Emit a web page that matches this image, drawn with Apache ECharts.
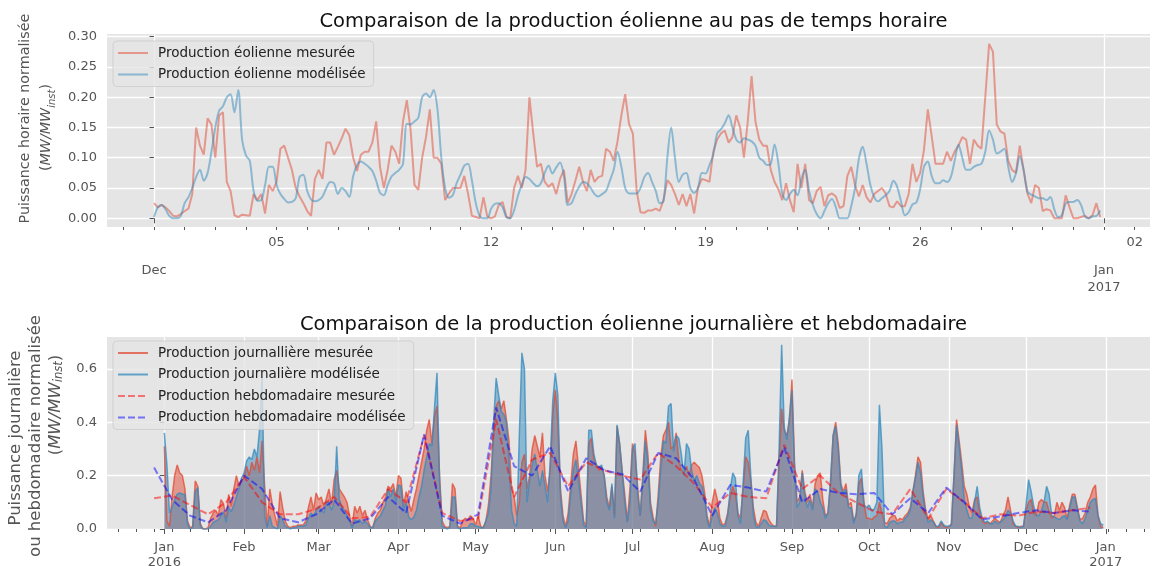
<!DOCTYPE html>
<html lang="fr">
<head>
<meta charset="utf-8">
<title>Production éolienne mesurée et modélisée</title>
<script src="https://cdn.jsdelivr.net/npm/echarts@6.0.0/dist/echarts.min.js"></script>
<style>
  html, body { margin: 0; padding: 0; background: #ffffff; }
  #graphique { width: 1154px; height: 566px; }
</style>
</head>
<body>
<div id="graphique"></div>
<script>
// ---------- Décembre 2016, un point toutes les 3 heures (une ligne = un jour) ----------
const pasHoraire = 3;
const mesureHoraire = [
  0.025, 0.018, 0.022, 0.018, 0.012, 0.004, 0.003, 0.007,
  0.012, 0.016, 0.04, 0.15, 0.12, 0.105, 0.165, 0.155,
  0.1, 0.17, 0.175, 0.06, 0.045, 0.005, 0.002, 0.006,
  0.005, 0.004, 0.04, 0.03, 0.04, 0.008, 0.055, 0.045,
  0.06, 0.115, 0.12, 0.1, 0.08, 0.05, 0.036, 0.025,
  0.012, 0.004, 0.065, 0.08, 0.065, 0.125, 0.125, 0.105,
  0.118, 0.132, 0.148, 0.137, 0.1, 0.078, 0.105, 0.11,
  0.11, 0.125, 0.16, 0.085, 0.05, 0.08, 0.12, 0.11,
  0.09, 0.16, 0.195, 0.145, 0.055, 0.047, 0.1, 0.134,
  0.18, 0.1, 0.1, 0.09, 0.03, 0.041, 0.05, 0.05,
  0.05, 0.07, 0.04, 0.004, 0.002, 0, 0.035, 0.003,
  0, 0.003, 0.022, 0.027, 0.002, 0, 0.05, 0.07,
  0.05, 0.08, 0.2, 0.14, 0.085, 0.09, 0.06, 0.052,
  0.058, 0.04, 0.065, 0.08, 0.025, 0.04, 0.062, 0.085,
  0.06, 0.045, 0.08, 0.06, 0.068, 0.07, 0.115, 0.11,
  0.095, 0.127, 0.17, 0.205, 0.156, 0.14, 0.045, 0.01,
  0.009, 0.013, 0.013, 0.016, 0.012, 0.03, 0.063, 0.055,
  0.04, 0.022, 0.04, 0.02, 0.04, 0.008, 0.05, 0.065,
  0.063, 0.06, 0.11, 0.13, 0.14, 0.145, 0.125, 0.134,
  0.17, 0.15, 0.1, 0.16, 0.235, 0.16, 0.13, 0.12,
  0.12, 0.08, 0.06, 0.048, 0.03, 0.058, 0.03, 0.01,
  0.09, 0.05, 0.09, 0.03, 0.025, 0.045, 0.052, 0.02,
  0.038, 0.041, 0.036, 0.017, 0.02, 0.07, 0.085, 0.055,
  0.036, 0.055, 0.035, 0.026, 0.04, 0.045, 0.05, 0.041,
  0.02, 0.018, 0.028, 0.02, 0.02, 0.04, 0.09, 0.06,
  0.075, 0.113, 0.18, 0.136, 0.09, 0.09, 0.09, 0.11,
  0.095, 0.11, 0.12, 0.134, 0.13, 0.09, 0.13, 0.12,
  0.115, 0.2, 0.288, 0.275, 0.155, 0.143, 0.14, 0.095,
  0.08, 0.075, 0.12, 0.08, 0.041, 0.025, 0.055, 0.05,
  0.012, 0.015, 0.013, 0, 0, 0, 0.038, 0.018,
  0, 0, 0.002, 0.004, 0, 0.005, 0.025, 0.002
];
const modeleHoraire = [
  0.002, 0.018, 0.022, 0.015, 0.004, 0, 0, 0.004,
  0.025, 0.035, 0.05, 0.068, 0.08, 0.062, 0.075, 0.11,
  0.15, 0.178, 0.185, 0.2, 0.205, 0.175, 0.212, 0.13,
  0.104, 0.095, 0.045, 0.029, 0.03, 0.055, 0.085, 0.085,
  0.055, 0.04, 0.032, 0.026, 0.027, 0.033, 0.068, 0.072,
  0.045, 0.031, 0.028, 0.03, 0.036, 0.05, 0.06, 0.058,
  0.04, 0.05, 0.045, 0.035, 0.07, 0.088, 0.094, 0.09,
  0.085, 0.078, 0.062, 0.042, 0.038, 0.055, 0.069, 0.075,
  0.08, 0.09, 0.156, 0.155, 0.16, 0.166, 0.2, 0.206,
  0.2, 0.212, 0.18, 0.1, 0.05, 0.034, 0.038, 0.058,
  0.072, 0.087, 0.09, 0.062, 0.025, 0.004, 0, 0,
  0.016, 0.024, 0.025, 0.018, 0.002, 0, 0.013, 0.037,
  0.055, 0.068, 0.065, 0.058, 0.053, 0.058, 0.075, 0.087,
  0.074, 0.084, 0.092, 0.07, 0.022, 0.025, 0.04, 0.052,
  0.06, 0.058, 0.05, 0.04, 0.036, 0.04, 0.045, 0.062,
  0.08, 0.11, 0.085, 0.05, 0.041, 0.041, 0.041, 0.05,
  0.068, 0.075, 0.06, 0.045, 0.025, 0.028, 0.1, 0.15,
  0.1, 0.06, 0.072, 0.075, 0.05, 0.042, 0.05, 0.075,
  0.074, 0.088, 0.105, 0.14, 0.147, 0.157, 0.17, 0.15,
  0.13, 0.125, 0.132, 0.13, 0.127, 0.12, 0.1, 0.095,
  0.088, 0.09, 0.122, 0.09, 0.041, 0.03, 0.04, 0.047,
  0.038, 0.065, 0.08, 0.045, 0.022, 0.007, 0, 0.012,
  0.025, 0.032, 0.018, 0, 0, 0, 0.02, 0.05,
  0.098, 0.118, 0.09, 0.055, 0.035, 0.028, 0.033, 0.038,
  0.045, 0.062, 0.052, 0.028, 0.005, 0.01, 0.023, 0.026,
  0.048, 0.085, 0.094, 0.07, 0.058, 0.058, 0.063, 0.06,
  0.068, 0.095, 0.122, 0.1, 0.08, 0.08, 0.085, 0.088,
  0.09, 0.11, 0.145, 0.13, 0.107, 0.11, 0.115, 0.085,
  0.06, 0.074, 0.103, 0.08, 0.044, 0.039, 0.036, 0.033,
  0.033, 0.03, 0.035, 0.015, 0.002, 0.005, 0.025, 0.027,
  0.027, 0.03, 0.022, 0.003, 0, 0.003, 0.004, 0.013
];

// ---------- Année 2016, moyennes journalières (une ligne = un mois) ----------
const mesureJour = [
  .31,.03,.01,.12,.20,.24,.21,.20,.15,.03,.005,.01,.18,.16,.02,0,0,.005,.04,.06,.07,.05,.11,.095,.04,.13,.085,.15,.20,.16,.18,
  .19,.235,.20,.25,.22,.27,.21,.33,.16,.01,.15,.09,.05,.01,.14,.08,.03,.01,.005,.01,.01,.015,.015,.015,.03,.08,.12,.07,.135,
  .11,.12,.085,.115,.15,.09,.185,.22,.15,.135,.12,.10,.05,.01,.085,.06,.085,.05,.07,.035,.01,.005,.04,.06,.07,.10,.12,.16,.15,.17,.12,
  .2,.19,.085,.14,.1,.065,.11,.15,.2,.25,.3,.37,.41,.32,.42,.46,.2,.03,.01,.005,.01,.17,.15,.01,.005,.03,.04,.035,.05,.04,
  .015,.05,.01,.005,.03,.09,.2,.35,.46,.48,.45,.48,.41,.33,.15,.12,.05,.1,.25,.28,.15,.2,.3,.35,.31,.27,.36,.2,.14,.22,.43,
  .52,.4,.15,.05,.01,.06,.17,.28,.33,.23,.13,.03,.01,.32,.34,.26,.24,.22,.23,.2,.12,.08,.16,.05,.385,.32,.22,.13,.03,.15,
  .32,.28,.16,.05,.2,.37,.28,.1,.045,.01,.13,.27,.35,.37,.4,.3,.31,.36,.26,.22,.21,.235,.2,.24,.25,.24,.23,.2,.14,.05,.01,
  .1,.15,.11,.04,.015,.02,.06,.12,.16,.13,.06,.04,.15,.27,.25,.18,.08,.025,.01,.04,.07,.065,.035,.02,.01,.01,.25,.45,.37,.35,.4,
  .56,.25,.1,.12,.22,.14,.1,.13,.08,.17,.2,.21,.11,.05,.06,.17,.35,.4,.32,.17,.14,.17,.09,.1,.03,.05,.17,.19,.1,.04,
  .04,.035,.045,.05,.1,.06,.025,.02,.04,.05,.05,.03,.04,.035,.05,.06,.08,.14,.2,.27,.25,.14,.07,.035,.05,.03,.01,.005,.025,.01,.005,
  .01,.02,.2,.41,.33,.25,.16,.13,.08,.06,.11,.12,.06,.03,.02,.025,.02,.03,.04,.03,.025,.05,.07,.12,.07,.02,.01,.005,.01,.01,
  .07,.1,.11,.06,.05,.1,.11,.1,.1,.065,.04,.05,.1,.07,.1,.08,.04,.09,.13,.13,.08,.035,.04,.06,.1,.12,.15,.165,.05,.01,.005
];
const modeleJour = [
  .36,.24,.06,.08,.11,.13,.135,.13,.13,.02,0,.005,.14,.155,.01,0,0,0,.01,.025,.03,.035,.05,.065,.025,.08,.065,.09,.12,.15,.19,
  .21,.255,.27,.26,.30,.27,.37,.57,.05,.005,.05,.01,.005,0,.05,.035,.01,.005,0,.005,.005,.01,.01,.01,.015,.04,.06,.05,.07,
  .085,.07,.06,.1,.1,.07,.1,.31,.11,.085,.07,.05,.03,.005,.035,.03,.035,.02,.03,.02,.005,.005,.03,.04,.05,.07,.09,.15,.12,.15,.1,
  .165,.16,.07,.1,.045,.035,.045,.07,.12,.16,.22,.27,.32,.31,.45,.585,.18,.01,.005,0,.005,.12,.12,.005,0,.005,.005,.005,.02,.02,
  .01,.01,.005,.005,.03,.06,.15,.4,.565,.5,.44,.43,.4,.25,.07,.02,.01,.35,.66,.6,.1,.18,.24,.28,.22,.16,.22,.16,.1,.25,.48,
  .585,.5,.12,.03,.005,.03,.13,.22,.26,.18,.1,.015,.005,.37,.37,.28,.24,.23,.24,.2,.1,.07,.17,.04,.39,.32,.21,.1,.025,.1,
  .3,.32,.13,.05,.18,.33,.25,.075,.03,.02,.1,.22,.33,.32,.46,.47,.29,.35,.34,.28,.2,.32,.3,.22,.18,.2,.17,.16,.12,.035,.005,
  .05,.08,.06,.02,.01,.01,.05,.15,.21,.19,.05,.02,.17,.34,.37,.2,.05,.01,.005,.02,.035,.03,.015,.01,.01,.01,.3,.69,.38,.335,.42,
  .52,.22,.08,.1,.21,.12,.08,.11,.07,.15,.14,.1,.08,.04,.06,.18,.35,.385,.3,.16,.13,.15,.08,.08,.02,.06,.2,.225,.09,.08,
  .09,.07,.075,.1,.465,.3,.01,.005,.025,.03,.03,.02,.025,.025,.04,.05,.07,.14,.19,.25,.21,.12,.055,.025,.035,.025,.01,.01,.03,.015,.01,
  .01,.015,.2,.39,.31,.22,.11,.07,.04,.04,.1,.16,.08,.04,.025,.03,.02,.02,.03,.02,.025,.035,.045,.07,.06,.03,.01,.01,.005,.01,
  .09,.185,.14,.085,.05,.05,.07,.1,.16,.13,.05,.045,.04,.035,.045,.05,.035,.08,.12,.12,.07,.03,.02,.04,.07,.1,.11,.115,.05,.02,.015
];

// ---------- Moyennes hebdomadaires, un point chaque lundi depuis le 28/12/2015 ----------
const debutHebdo = -4;   // jours par rapport au 1er janvier 2016
const pasHebdo = 7;
const mesureHebdo = [
  .115,.125,.09,.055,.1,.195,.1,.055,.055,.075,.12,.04,.045,.15,.1,.35,.06,.03,.04,.41,.12,.26,.285,.16,.25,.22,
  .2,.185,.285,.235,.17,.08,.135,.12,.115,.315,.15,.2,.135,.1,.065,.055,.15,.04,.15,.1,.04,.055,.05,.065,.06,.07,.08
];
const modeleHebdo = [
  .23,.11,.05,.025,.07,.2,.15,.04,.025,.055,.11,.02,.04,.12,.06,.355,.05,.02,.055,.455,.235,.2,.31,.14,.265,.22,
  .205,.14,.285,.265,.185,.05,.165,.155,.14,.305,.1,.15,.135,.13,.135,.055,.115,.06,.155,.1,.035,.047,.06,.07,.06,.07,.065
];

// ---------- Libellés ----------
const titreHoraire = 'Comparaison de la production éolienne au pas de temps horaire';
const titreJour = 'Comparaison de la production éolienne journalière et hebdomadaire';
const nomsHoraire = ['Production éolienne mesurée', 'Production éolienne modélisée'];
const nomsJour = ['Production journallière mesurée', 'Production journalière modélisée',
                  'Production hebdomadaire mesurée', 'Production hebdomadaire modélisée'];
const moisHoraire = ['Dec', 'Jan\n2017'];
const joursHoraire = ['05', '12', '19', '26', '02'];
const moisAnnee = ['Jan\n2016', 'Feb', 'Mar', 'Apr', 'May', 'Jun', 'Jul', 'Aug', 'Sep', 'Oct', 'Nov', 'Dec', 'Jan\n2017'];
const valeursGradHoraire = [0, 0.05, 0.10, 0.15, 0.20, 0.25, 0.30];
const textesGradHoraire = ['0.00', '0.05', '0.10', '0.15', '0.20', '0.25', '0.30'];
const valeursGradJour = [0, 0.2, 0.4, 0.6];
const textesGradJour = ['0.0', '0.2', '0.4', '0.6'];
const uniteAxe = '{p|(}{m|MW/MW}{s|inst}{p|)}';

// ---------- Positions calendaires ----------
const MS_JOUR = 864e5, MS_HEURE = 36e5;
const origineDec = Date.UTC(2016, 11, 1);
const origineAnnee = Date.UTC(2016, 0, 1);
const heuresMois = [Date.UTC(2016, 11, 1), Date.UTC(2017, 0, 1)].map(t => (t - origineDec) / MS_HEURE);
const heuresJoursLibelles = [Date.UTC(2016, 11, 5), Date.UTC(2016, 11, 12), Date.UTC(2016, 11, 19),
                             Date.UTC(2016, 11, 26), Date.UTC(2017, 0, 2)].map(t => (t - origineDec) / MS_HEURE);
const heuresGraduationsJour = [];
for (let d = -1; d <= 32; d++) heuresGraduationsJour.push(d * 24);
const joursDebutMois = moisAnnee.map((_, m) => (Date.UTC(2016, m, 1) - origineAnnee) / MS_JOUR);
const lundis = [];
for (let d = (Date.UTC(2015, 11, 14) - origineAnnee) / MS_JOUR; d <= 382; d += 7) lundis.push(d);

const bornesHoraire = [-36.8, 780];
const bornesJour = [-22.3, 383.2];

// ---------- Séries ----------
const serieH = vals => vals.map((v, i) => [i * pasHoraire, v]);
const serieJ = vals => vals.map((v, i) => [i, v]);
const serieS = vals => vals.map((v, i) => [debutHebdo + i * pasHebdo, v]);

const POLICE = 'DejaVu Sans';
const GRIS = '#555555';
const ROUGE = '#E24A33', BLEU = '#348ABD';

function libelle(valeurs, textes) {
  return v => {
    const i = valeurs.findIndex(x => Math.abs(x - v) < 1e-6);
    return i < 0 ? '' : textes[i];
  };
}

const styleLibelle = { color: GRIS, fontFamily: POLICE, fontSize: 13 };

function axeX(grille, bornes, valeursTick, longueur, valeursLib, textesLib, marge, grilleVisible, hauteurLigne) {
  return {
    type: 'value', gridIndex: grille, position: 'bottom', min: bornes[0], max: bornes[1],
    axisLine: { show: false },
    axisTick: { show: true, inside: false, length: longueur, customValues: valeursTick,
                lineStyle: { color: GRIS, width: 1 } },
    axisLabel: Object.assign({ show: valeursLib.length > 0, customValues: valeursLib, margin: marge,
                lineHeight: hauteurLigne, formatter: libelle(valeursLib, textesLib) }, styleLibelle),
    splitLine: { show: grilleVisible, lineStyle: { color: '#ffffff', width: 1.3 } }
  };
}

// Titre d'axe tourné : le décalage de chaque ligne le long de l'axe se règle par un remplissage
// à gauche (vers le haut) ou à droite (vers le bas) du fragment.
function styleNom(taille, interligne, decalages) {
  const base = { fontFamily: POLICE, color: GRIS, fontSize: taille, lineHeight: interligne };
  const rich = {
    p: Object.assign({}, base),
    m: Object.assign({ fontStyle: 'italic' }, base),
    s: { fontFamily: POLICE, color: GRIS, fontSize: taille * 0.7, lineHeight: 12, fontStyle: 'italic', verticalAlign: 'bottom' }
  };
  decalages.forEach((d, i) => {
    rich['l' + i] = Object.assign({ padding: d >= 0 ? [0, 0, 0, 2 * d] : [0, -2 * d, 0, 0] }, base);
  });
  return Object.assign({ rich: rich }, base);
}

function axeY(grille, min, max, valeurs, textes, nom, ecart, style) {
  return {
    type: 'value', gridIndex: grille, min: min, max: max,
    axisLine: { show: false },
    axisTick: { show: true, length: 4.5, customValues: valeurs, lineStyle: { color: GRIS } },
    axisLabel: Object.assign({ customValues: valeurs, margin: 10, formatter: libelle(valeurs, textes) }, styleLibelle),
    splitLine: { show: true, lineStyle: { color: '#ffffff', width: 1.3 } },
    name: nom, nameLocation: 'middle', nameRotate: 90, nameGap: ecart, nameTextStyle: style
  };
}

function legende(noms, haut) {
  return {
    data: noms, orient: 'vertical', left: 113, top: haut, z: 10,
    selectedMode: false,
    itemWidth: 30, itemHeight: 12, itemGap: 7.5,
    padding: [5, 8, 5, 4],
    itemStyle: { opacity: 0 },
    backgroundColor: 'rgba(229,229,229,0.8)',
    borderColor: 'rgba(204,204,204,0.8)', borderWidth: 1, borderRadius: 4,
    textStyle: { fontFamily: POLICE, fontSize: 13.5, color: '#222222', padding: [0, 0, 0, 5] }
  };
}

const cadre = { show: true, backgroundColor: '#E5E5E5', borderWidth: 0, containLabel: false, outerBoundsMode: 'none' };

const graphique = echarts.init(document.getElementById('graphique'), null, { renderer: 'canvas' });
graphique.setOption({
  animation: false,
  backgroundColor: '#ffffff',
  title: [
    { text: titreHoraire, left: 628.5, textAlign: 'center', top: 7,
      textStyle: { fontFamily: POLICE, fontSize: 19.5, fontWeight: 'normal', color: '#111111' } },
    { text: titreJour, left: 628.5, textAlign: 'center', top: 310,
      textStyle: { fontFamily: POLICE, fontSize: 19.5, fontWeight: 'normal', color: '#111111' } }
  ],
  grid: [
    Object.assign({ left: 107, right: 4, top: 34, height: 193 }, cadre),
    Object.assign({ left: 107, right: 4, top: 337, height: 192 }, cadre)
  ],
  legend: [legende(nomsHoraire, 41), legende(nomsJour, 341)],
  xAxis: [
    axeX(0, bornesHoraire, heuresMois, 5, heuresMois, moisHoraire, 35, true, 17),
    axeX(0, bornesHoraire, heuresGraduationsJour, 3, heuresJoursLibelles, joursHoraire, 8, false, 15),
    axeX(1, bornesJour, joursDebutMois, 5, joursDebutMois, moisAnnee, 11, true, 15),
    axeX(1, bornesJour, lundis, 3, [], [], 8, false, 15)
  ],
  yAxis: [
    axeY(0, -0.0144, 0.3044, valeursGradHoraire, textesGradHoraire,
         '{l0|Puissance horaire normalisée}\n{l1|(}{m|MW/MW}{s|inst}{p|)}', 50,
         styleNom(14.3, 21, [12, 3])),
    axeY(1, 0, 0.719, valeursGradJour, textesGradJour,
         '{l0|Puissance journalière}\n{l1|ou hebdomadaire normalisée}\n{l2|(}{m|MW/MW}{s|inst}{p|)}', 40,
         styleNom(16.5, 20, [-5, -3, 28]))
  ],
  series: [
    { name: nomsHoraire[0], type: 'line', xAxisIndex: 0, yAxisIndex: 0, data: serieH(mesureHoraire),
      symbol: 'none', itemStyle: { color: ROUGE }, lineStyle: { color: ROUGE, width: 2, opacity: 0.5 } },
    { name: nomsHoraire[1], type: 'line', xAxisIndex: 0, yAxisIndex: 0, data: serieH(modeleHoraire),
      symbol: 'none', smooth: 0.3, itemStyle: { color: BLEU }, lineStyle: { color: BLEU, width: 2, opacity: 0.5 } },

    { name: nomsJour[0], type: 'line', xAxisIndex: 2, yAxisIndex: 1, data: serieJ(mesureJour),
      symbol: 'none', itemStyle: { color: ROUGE }, lineStyle: { color: ROUGE, width: 1.5, opacity: 0.75 },
      areaStyle: { color: ROUGE, opacity: 0.5 } },
    { name: nomsJour[1], type: 'line', xAxisIndex: 2, yAxisIndex: 1, data: serieJ(modeleJour),
      symbol: 'none', itemStyle: { color: BLEU }, lineStyle: { color: BLEU, width: 1.5, opacity: 0.75 },
      areaStyle: { color: BLEU, opacity: 0.5 } },
    { name: nomsJour[2], type: 'line', xAxisIndex: 2, yAxisIndex: 1, data: serieS(mesureHebdo),
      symbol: 'none', itemStyle: { color: '#FF0000' },
      lineStyle: { color: '#FF0000', width: 2, opacity: 0.5, type: [7, 3] } },
    { name: nomsJour[3], type: 'line', xAxisIndex: 2, yAxisIndex: 1, data: serieS(modeleHebdo),
      symbol: 'none', itemStyle: { color: '#0000FF' },
      lineStyle: { color: '#0000FF', width: 2, opacity: 0.5, type: [7, 3] } }
  ]
});
</script>
</body>
</html>
